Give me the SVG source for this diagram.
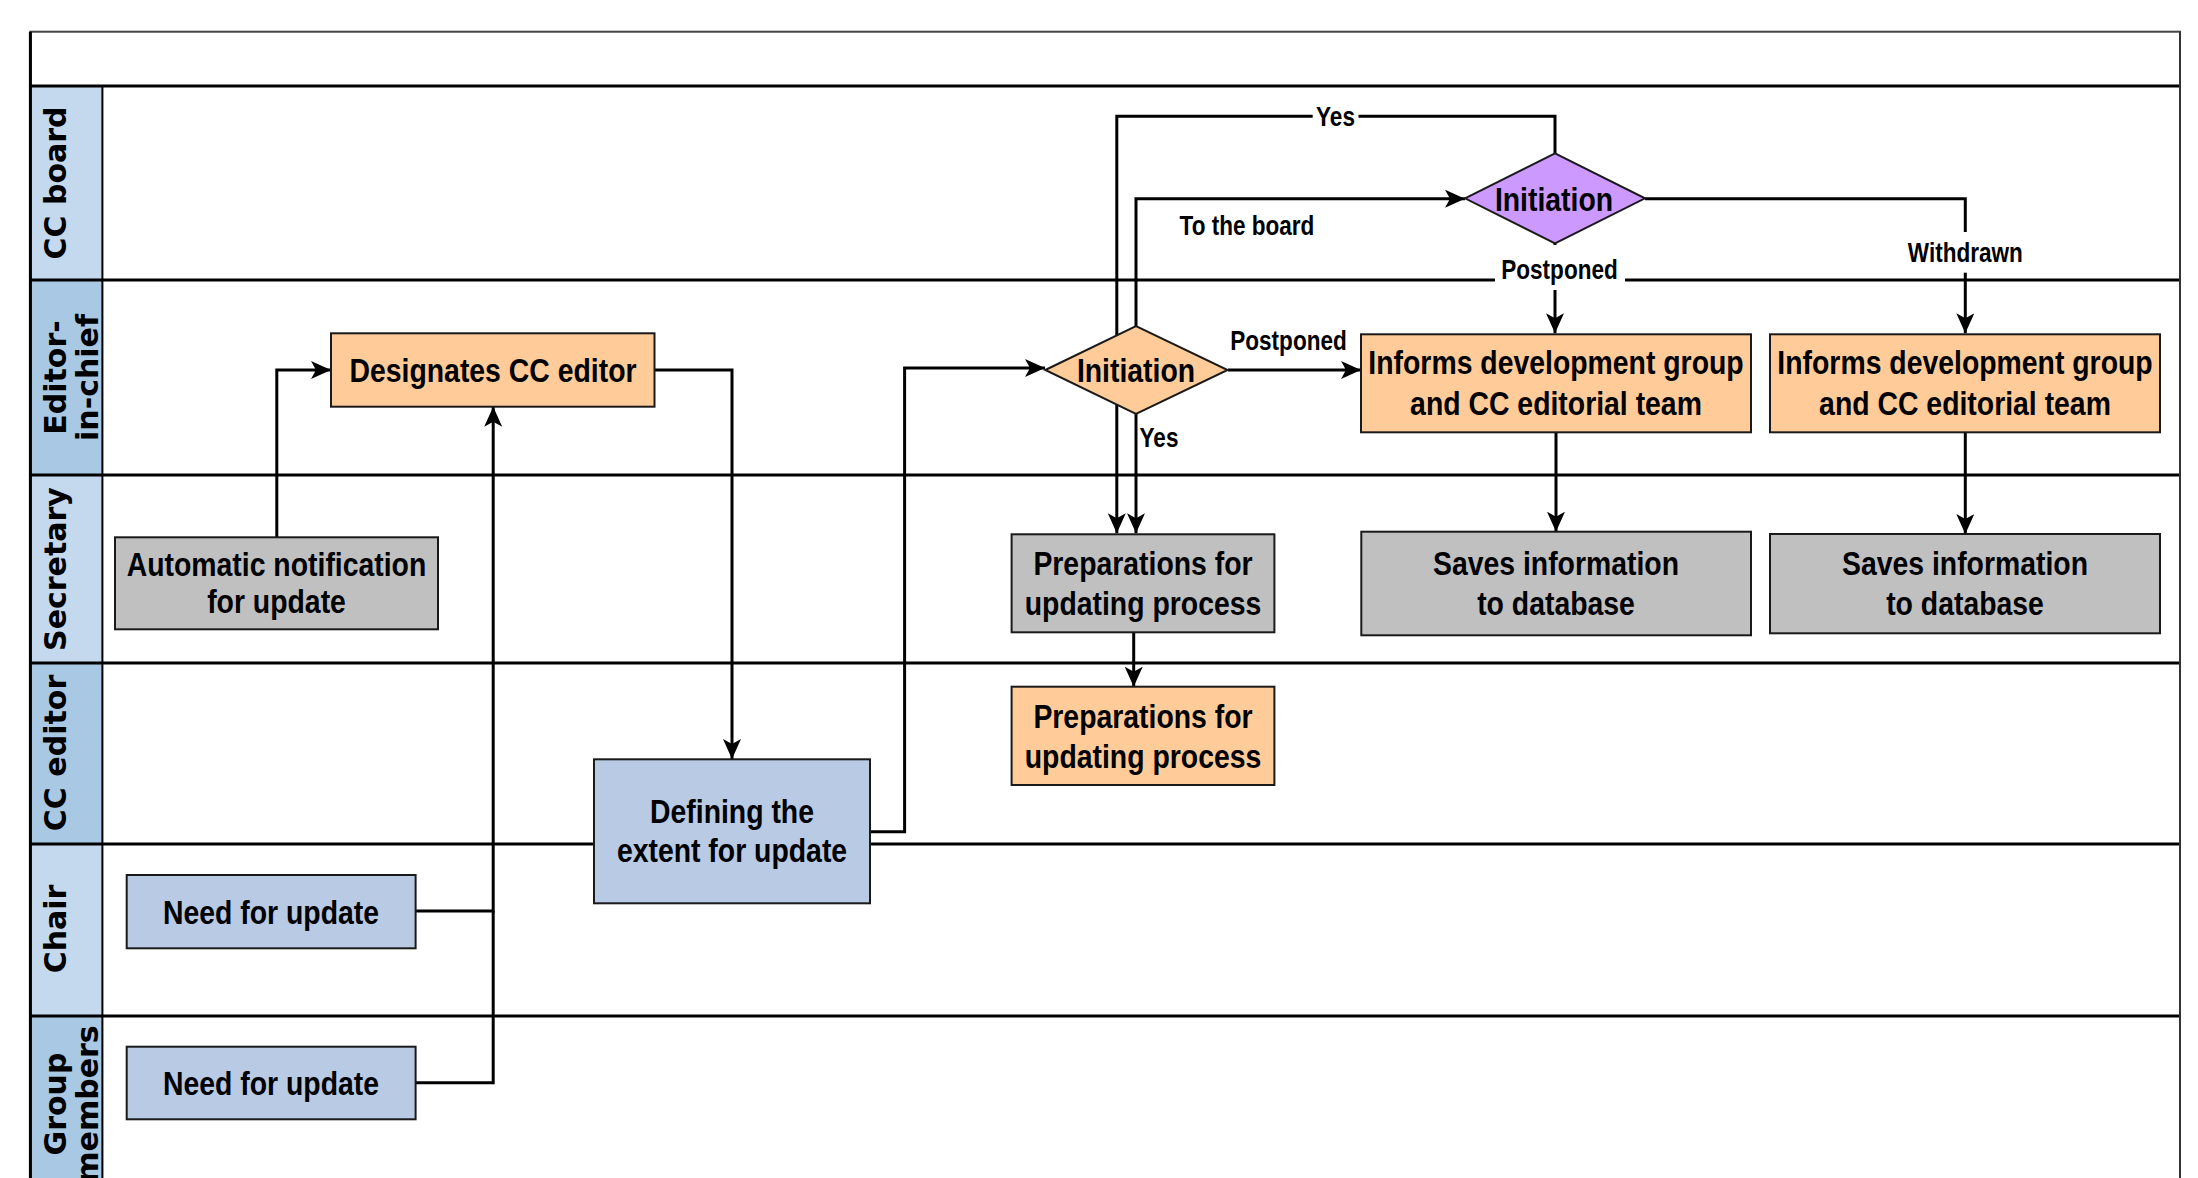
<svg xmlns="http://www.w3.org/2000/svg" width="2198" height="1178" viewBox="0 0 2198 1178">
<defs>
<style>
.lane{stroke:#000;stroke-width:3;fill:none}
.hdrL{fill:#C5D9EE;stroke:#000;stroke-width:2}
.hdrD{fill:#A9C8E3;stroke:#000;stroke-width:2}
.ht{font-family:"DejaVu Sans",Verdana,sans-serif;font-weight:bold;font-size:30px;fill:#000;text-anchor:middle}
.box{stroke:#1a1a1a;stroke-width:2}
.orange{fill:#FFCC99}
.gray{fill:#C0C0C0}
.blue{fill:#B8CAE4}
.purple{fill:#CC99FF}
.nt{font-family:"Liberation Sans",Arial,sans-serif;font-weight:bold;font-size:34px;fill:#000;text-anchor:middle}
.et{font-family:"Liberation Sans",Arial,sans-serif;font-weight:bold;font-size:27.5px;fill:#000;text-anchor:middle}
.edge{stroke:#000;stroke-width:3;fill:none}
.arr{marker-end:url(#ah)}
.bg{fill:#fff}
</style>
<marker id="ah" markerUnits="userSpaceOnUse" markerWidth="22" markerHeight="20" refX="20" refY="9" orient="auto" viewBox="0 0 22 20">
<path d="M0,0 L20,9 L0,18 L5,9 z" fill="#000"/>
</marker>
</defs>
<rect width="2198" height="1178" fill="#fff"/>
<g id="pool">
<rect x="30.4" y="31.7" width="2149.6" height="1200" fill="#fff" stroke="#444" stroke-width="2"/>
<rect class="hdrL" x="30.4" y="86" width="72" height="194"/>
<rect class="hdrD" x="30.4" y="280" width="72" height="195"/>
<rect class="hdrL" x="30.4" y="475" width="72" height="188"/>
<rect class="hdrD" x="30.4" y="663" width="72" height="181"/>
<rect class="hdrL" x="30.4" y="844" width="72" height="172"/>
<rect class="hdrD" x="30.4" y="1016" width="72" height="200"/>
<line class="lane" x1="30.4" y1="86" x2="2180" y2="86"/>
<line class="lane" x1="30.4" y1="280" x2="2180" y2="280"/>
<line class="lane" x1="30.4" y1="475" x2="2180" y2="475"/>
<line class="lane" x1="30.4" y1="663" x2="2180" y2="663"/>
<line class="lane" x1="30.4" y1="844" x2="2180" y2="844"/>
<line class="lane" x1="30.4" y1="1016" x2="2180" y2="1016"/>
<line x1="30.4" y1="31.7" x2="30.4" y2="1200" stroke="#000" stroke-width="3"/>
<line x1="2180" y1="31.7" x2="2180" y2="1200" stroke="#333" stroke-width="2"/>
<text class="ht" transform="translate(65.5,183) rotate(-90)">CC board</text>
<text class="ht" transform="translate(65.5,377.5) rotate(-90)">Editor-</text>
<text class="ht" transform="translate(98,377.5) rotate(-90)">in-chief</text>
<text class="ht" transform="translate(65.5,569) rotate(-90)">Secretary</text>
<text class="ht" transform="translate(65.5,753) rotate(-90)">CC editor</text>
<text class="ht" transform="translate(65.5,929) rotate(-90)">Chair</text>
<text class="ht" transform="translate(65.5,1104) rotate(-90)">Group</text>
<text class="ht" transform="translate(98,1104) rotate(-90)">members</text>
</g>
<g id="connectors">
<path class="edge arr" d="M276.8,537.3 V370 H331"/>
<path class="edge arr" d="M415.6,911 H493.2 V406.7"/>
<path class="edge" d="M415.6,1082.7 H493.2 V911"/>
<path class="edge arr" d="M654.5,370 H732 V759"/>
<path class="edge arr" d="M870,831.7 H904.6 V368 H1045"/>
<path class="edge arr" d="M1228,370 H1361"/>
<path class="edge arr" d="M1136,414 V533.3"/>
<path class="edge arr" d="M1136,326 V198.7 H1465"/>
<path class="edge arr" d="M1555,153.3 V116.3 H1116.8 V533.3"/>
<path class="edge arr" d="M1555,243.3 V333.3"/>
<path class="edge arr" d="M1645,198.7 H1965.3 V333.3"/>
<path class="edge arr" d="M1556,432.3 V531.7"/>
<path class="edge arr" d="M1965.3,432.3 V534"/>
<path class="edge arr" d="M1133.7,632.3 V686.7"/>
</g>
<g id="edge-labels">
<rect class="bg" x="1312.7" y="104" width="45.8" height="26"/>
<text class="et" transform="translate(1335.5,126) scale(0.82,1)">Yes</text>
<text class="et" transform="translate(1247,235) scale(0.82,1)">To the board</text>
<text class="et" transform="translate(1288.5,350) scale(0.82,1)">Postponed</text>
<text class="et" transform="translate(1159,447) scale(0.82,1)">Yes</text>
<rect class="bg" x="1495" y="245" width="130" height="45"/>
<text class="et" transform="translate(1559.5,279) scale(0.82,1)">Postponed</text>
<rect class="bg" x="1905" y="232" width="120" height="40.7"/>
<text class="et" transform="translate(1965.3,261.7) scale(0.82,1)">Withdrawn</text>
</g>
<g id="n-designates">
<rect class="box orange" x="331" y="333.3" width="323.5" height="73.4"/>
<text class="nt" transform="translate(493,382) scale(0.835,1)">Designates CC editor</text>
</g>
<g id="n-autonotify">
<rect class="box gray" x="115" y="537.3" width="323" height="92"/>
<text class="nt" transform="translate(276.5,576) scale(0.835,1)">Automatic notification</text>
<text class="nt" transform="translate(276.5,613) scale(0.835,1)">for update</text>
</g>
<g id="n-defining">
<rect class="box blue" x="594" y="759.3" width="276" height="144"/>
<text class="nt" transform="translate(732,823) scale(0.835,1)">Defining the</text>
<text class="nt" transform="translate(732,862) scale(0.835,1)">extent for update</text>
</g>
<g id="n-need-chair">
<rect class="box blue" x="126.7" y="875" width="288.9" height="73.3"/>
<text class="nt" transform="translate(271,924) scale(0.835,1)">Need for update</text>
</g>
<g id="n-need-group">
<rect class="box blue" x="126.7" y="1046.7" width="288.9" height="72.6"/>
<text class="nt" transform="translate(271,1095) scale(0.835,1)">Need for update</text>
</g>
<g id="n-init-eic">
<polygon class="box orange" points="1045.3,370 1136,326 1227.6,370 1136,414"/>
<text class="nt" transform="translate(1136,382) scale(0.835,1)">Initiation</text>
</g>
<g id="n-init-board">
<polygon class="box purple" points="1465,198.3 1555,153.3 1645,198.3 1555,243.3"/>
<text class="nt" transform="translate(1554,210.7) scale(0.835,1)">Initiation</text>
</g>
<g id="n-informs-1">
<rect class="box orange" x="1361" y="334.3" width="390" height="98"/>
<text class="nt" transform="translate(1556,374) scale(0.835,1)">Informs development group</text>
<text class="nt" transform="translate(1556,415) scale(0.835,1)">and CC editorial team</text>
</g>
<g id="n-informs-2">
<rect class="box orange" x="1770" y="334.3" width="390" height="98"/>
<text class="nt" transform="translate(1965,374) scale(0.835,1)">Informs development group</text>
<text class="nt" transform="translate(1965,415) scale(0.835,1)">and CC editorial team</text>
</g>
<g id="n-prep-secretary">
<rect class="box gray" x="1011.6" y="534.3" width="262.8" height="98"/>
<text class="nt" transform="translate(1143,575) scale(0.835,1)">Preparations for</text>
<text class="nt" transform="translate(1143,615) scale(0.835,1)">updating process</text>
</g>
<g id="n-prep-editor">
<rect class="box orange" x="1011.6" y="686.7" width="262.8" height="98.3"/>
<text class="nt" transform="translate(1143,728) scale(0.835,1)">Preparations for</text>
<text class="nt" transform="translate(1143,768) scale(0.835,1)">updating process</text>
</g>
<g id="n-saves-1">
<rect class="box gray" x="1361.3" y="531.7" width="389.7" height="103.6"/>
<text class="nt" transform="translate(1556,575) scale(0.835,1)">Saves information</text>
<text class="nt" transform="translate(1556,615) scale(0.835,1)">to database</text>
</g>
<g id="n-saves-2">
<rect class="box gray" x="1770" y="534" width="390" height="99.3"/>
<text class="nt" transform="translate(1965,575) scale(0.835,1)">Saves information</text>
<text class="nt" transform="translate(1965,615) scale(0.835,1)">to database</text>
</g>
</svg>
